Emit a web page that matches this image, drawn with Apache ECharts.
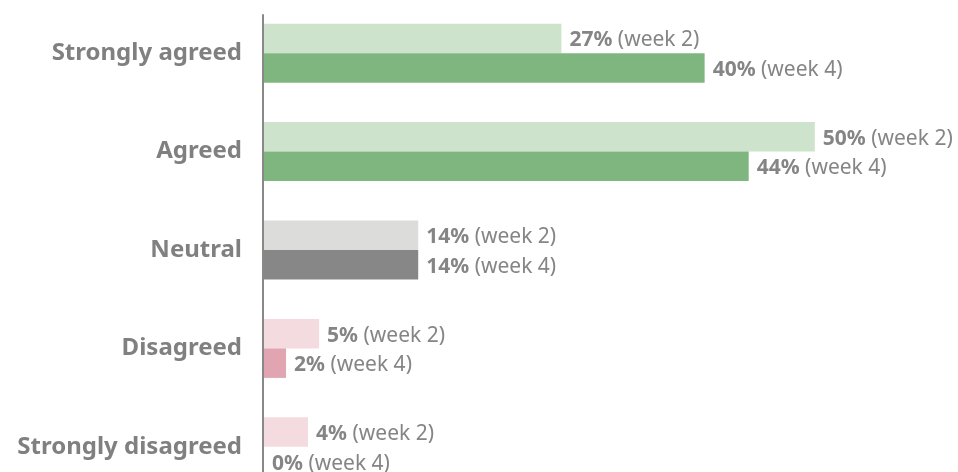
<!DOCTYPE html>
<html>
<head>
<meta charset="utf-8">
<title>Survey</title>
<script src="https://cdn.jsdelivr.net/npm/echarts@6/dist/echarts.min.js"></script>
<style>
html,body{margin:0;padding:0;background:#fff;overflow:hidden;}
#chart{width:958px;height:496px;}
</style>
</head>
<body>
<div id="chart"></div>
<script>
var categories = ['Strongly agreed', 'Agreed', 'Neutral', 'Disagreed', 'Strongly disagreed'];
var week2 = [27, 50, 14, 5, 4];
var week4 = [40, 44, 14, 2, 0];
var week2Colors = ['#cde3cb', '#cde3cb', '#dcdcda', '#f3dbe0', '#f3dbe0'];
var week4Colors = ['#7fb67f', '#7fb67f', '#878787', '#e0a5b1', '#e0a5b1'];

var FONT = 'Noto Sans';

// the plot runs a little past the bottom of the window, like the original
function label(week) {
    return {
        show: true,
        position: 'right',
        distance: 8,
        formatter: function (p) { return '{v|' + p.value + '%}{w| (week ' + week + ')}'; },
        rich: {
            v: {fontFamily: FONT, fontWeight: 'bold', fontSize: 21, color: '#858585', padding: [4, 0, 0, 0]},
            w: {fontFamily: FONT, fontSize: 21, color: '#858585', padding: [4, 0, 0, 0]}
        }
    };
}

function colored(values, colors) {
    return values.map(function (v, i) {
        return {value: v, itemStyle: {color: colors[i]}};
    });
}

echarts.init(document.getElementById('chart')).setOption({
    animation: false,
    grid: [
        {left: 264, right: 0, top: 4, bottom: 0},
        {left: 263, right: 0, top: 15, bottom: 0}
    ],
    xAxis: [
        {type: 'value', gridIndex: 0, min: 0, max: 63, show: false},
        {type: 'value', gridIndex: 1, show: false}
    ],
    yAxis: [
        {
            type: 'category',
            gridIndex: 0,
            inverse: true,
            data: categories,
            axisLine: {show: false},
            axisTick: {show: false},
            axisLabel: {
                margin: 22,
                fontFamily: FONT,
                fontWeight: 'bold',
                fontSize: 24,
                color: '#808080'
            }
        },
        {
            type: 'value',
            gridIndex: 1,
            axisLine: {show: true, lineStyle: {color: '#888888', width: 2}},
            axisTick: {show: false},
            axisLabel: {show: false},
            splitLine: {show: false}
        }
    ],
    series: [
        {
            name: 'week 2',
            type: 'bar',
            barWidth: 29.5,
            barGap: '0%',
            data: colored(week2, week2Colors),
            label: label(2)
        },
        {
            name: 'week 4',
            type: 'bar',
            barWidth: 29.5,
            barGap: '0%',
            data: colored(week4, week4Colors),
            label: label(4)
        }
    ]
});
</script>
</body>
</html>
